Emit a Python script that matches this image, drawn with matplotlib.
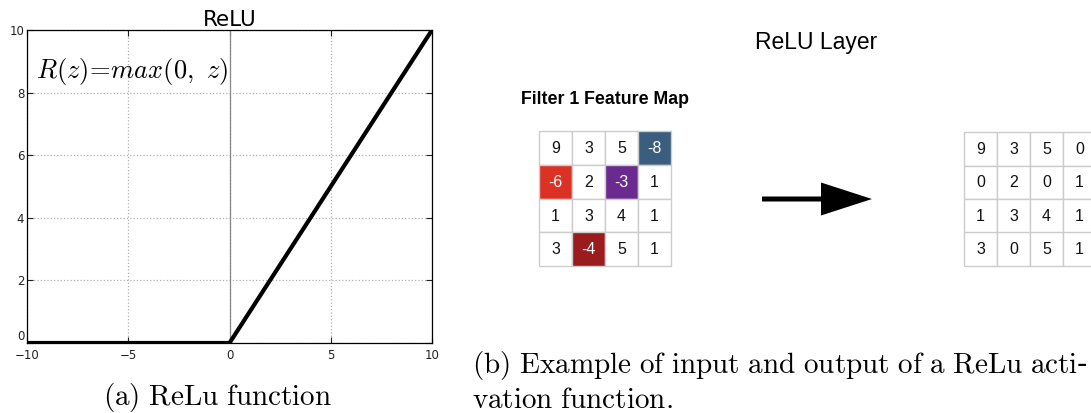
import numpy as np
import matplotlib
matplotlib.use('Agg')
import matplotlib.pyplot as plt
from matplotlib.patches import Rectangle

plt.rcParams['mathtext.fontset'] = 'cm'

# ReLU curve
z = [-10, 0, 10]
relu = [0, 0, 10]
x_ticks = [-10, -5, 0, 5, 10]
y_ticks = [0, 2, 4, 6, 8, 10]

# feature maps
feature_map = [[9, 3, 5, -8],
               [-6, 2, -3, 1],
               [1, 3, 4, 1],
               [3, -4, 5, 1]]
relu_map = [[9, 3, 5, 0],
            [0, 2, 0, 1],
            [1, 3, 4, 1],
            [3, 0, 5, 1]]
neg_colors = {(0, 3): '#3b5d7e', (1, 0): '#dc3226',
              (1, 2): '#6a2a8f', (3, 1): '#9a1c1e'}

W, H = 1091, 413


def box(x0, y0, x1, y1):
    return [x0 / W, 1 - y1 / H, (x1 - x0) / W, (y1 - y0) / H]


fig = plt.figure(figsize=(W / 100, H / 100), dpi=100)

# (a) ReLU function
ax = fig.add_axes(box(27, 30, 432, 343))
ax.plot(z, relu, color='black', lw=3, solid_capstyle='butt', zorder=3)
ax.axvline(0, color='#888888', lw=0.9, zorder=2)
ax.set_xlim(-10, 10)
ax.set_ylim(0, 10)
ax.set_xticks(x_ticks)
ax.set_yticks(y_ticks)
ax.grid(True, ls=':', color='#b0b0b0', lw=0.9)
ax.tick_params(direction='in', top=True, right=True, labelsize=8.5,
               length=4, pad=2, colors='#222222')
ax.tick_params(axis='x', pad=4)
# lift the y "0" label a little so it sits above the x "-10" label
ax.get_yticklabels()[0].set_va('bottom')
for s in ax.spines.values():
    s.set_linewidth(0.9)
ax.set_title('ReLU', fontsize=15.5, pad=3)
ax.text(-9.55, 8.66, r'$R(z)\!=\!max(0,\ z)$', fontsize=19, va='center')

fig.text(217 / W, 1 - 397 / H, r'$\mathrm{(a)\ ReLu\ function}$',
         fontsize=21, ha='center', va='center')

# (b) ReLU layer
fig.text(816 / W, 1 - 43 / H, 'ReLU Layer', fontsize=16.5,
         family='Liberation Sans', ha='center', va='center')
fig.text(521 / W, 1 - 100 / H, 'Filter 1 Feature Map', fontsize=12.8,
         family='Liberation Sans', weight='bold', ha='left', va='center')


def draw_grid(rect, values, colors):
    g = fig.add_axes(rect)
    n = len(values)
    g.set_xlim(0, n)
    g.set_ylim(n, 0)
    g.axis('off')
    for i, row in enumerate(values):
        for j, v in enumerate(row):
            fc = colors.get((i, j), 'white')
            g.add_patch(Rectangle((j, i), 1, 1, facecolor=fc,
                                  edgecolor='#cccccc', lw=1, clip_on=False))
            g.text(j + 0.5, i + 0.52, str(v), ha='center', va='center',
                   fontsize=11.5, family='Liberation Sans',
                   color='white' if fc != 'white' else '#111111')
    return g


draw_grid(box(539, 131, 671, 266), feature_map, neg_colors)
draw_grid(box(964, 132, 1096, 266), relu_map, {})

ov = fig.add_axes([0, 0, 1, 1])
ov.set_xlim(0, W)
ov.set_ylim(H, 0)
ov.axis('off')
ov.patch.set_alpha(0)
ov.arrow(762, 199, 110, 0, width=5, head_width=33, head_length=51,
         length_includes_head=True, color='black', lw=0)

fig.text(472 / W, 1 - 365 / H,
         r'$\mathrm{(b)\ Example\ of\ input\ and\ output\ of\ a\ ReLu\ acti}$-',
         fontsize=21, ha='left', va='center')
fig.text(472 / W, 1 - 400 / H, r'$\mathrm{vation\ function.}$',
         fontsize=21, ha='left', va='center')

fig.savefig('out.png', dpi=100)
